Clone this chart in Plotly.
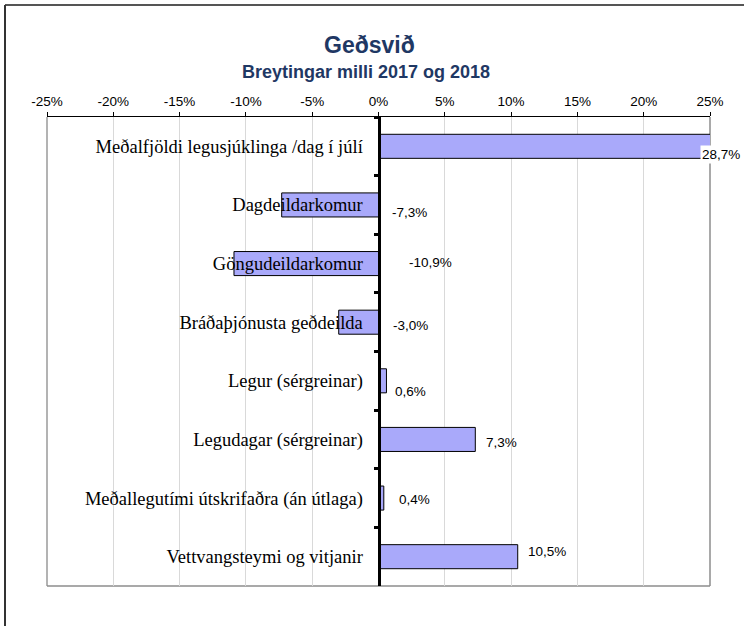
import plotly.graph_objects as go

categories = [
    "Meðalfjöldi legusjúklinga /dag í júlí",
    "Dagdeildarkomur",
    "Göngudeildarkomur",
    "Bráðaþjónusta geðdeilda",
    "Legur (sérgreinar)",
    "Legudagar (sérgreinar)",
    "Meðallegutími útskrifaðra (án útlaga)",
    "Vettvangsteymi og vitjanir",
]
values = [28.7, -7.3, -10.9, -3.0, 0.6, 7.3, 0.4, 10.5]
value_labels = ["28,7%", "-7,3%", "-10,9%", "-3,0%", "0,6%", "7,3%", "0,4%", "10,5%"]
tick_values = [-25, -20, -15, -10, -5, 0, 5, 10, 15, 20, 25]
tick_labels = ["-25%", "-20%", "-15%", "-10%", "-5%", "0%", "5%", "10%", "15%", "20%", "25%"]
title_text = "Geðsvið"
subtitle_text = "Breytingar milli 2017 og 2018"

# styling / label placement (pixels)
label_xshift = [-10, 11, 28, 12, 7, 9, 13, 8]
label_yshift = [-8, -8, 1, -3, -11, -3, -1, 5]

W, H = 744, 626
ML, MR, MT, MB = 47, 34, 117, 40
PW, PH = W - ML - MR, H - MT - MB
XMIN, XMAX = -25, 25

def px_x(px):
    return (px - ML) / PW

def px_y(py):
    return 1 - (py - MT) / PH

TITLE_COLOR = "#1F3864"
BAR_COLOR = "#A9A9FA"

fig = go.Figure()
fig.add_trace(go.Bar(
    x=values, y=categories, orientation="h",
    marker=dict(color=BAR_COLOR, line=dict(color="#000000", width=1)),
    width=0.41, hoverinfo="skip", showlegend=False,
))

annotations = []
for cat, v, lab, dx, dy in zip(categories, values, value_labels, label_xshift, label_yshift):
    xv = min(max(v, 0), XMAX)
    annotations.append(dict(
        x=xv, y=cat, xref="x", yref="y", text=lab, showarrow=False,
        xanchor="left", yanchor="middle", xshift=dx, yshift=dy,
        font=dict(family="Liberation Sans, Arial, sans-serif", size=13.5, color="#000000"),
        bgcolor="#FFFFFF" if v > XMAX else None,
    ))

annotations.append(dict(
    x=px_x(369), y=px_y(45), xref="paper", yref="paper", text=title_text,
    showarrow=False, xanchor="center", yanchor="middle",
    font=dict(family="Liberation Sans, Arial, sans-serif", size=23, color=TITLE_COLOR, weight="bold"),
))
annotations.append(dict(
    x=px_x(366), y=px_y(72), xref="paper", yref="paper", text=subtitle_text,
    showarrow=False, xanchor="center", yanchor="middle",
    font=dict(family="Liberation Sans, Arial, sans-serif", size=18, color=TITLE_COLOR, weight="bold"),
))

shapes = [
    dict(type="line", xref="paper", yref="paper", x0=0, x1=0, y0=0, y1=1,
         line=dict(color="#9A9A9A", width=1.5), layer="below"),
    dict(type="line", xref="paper", yref="paper", x0=1, x1=1, y0=0, y1=1,
         line=dict(color="#8C8C8C", width=1.5), layer="below"),
    dict(type="line", xref="paper", yref="paper", x0=0, x1=1, y0=0, y1=0,
         line=dict(color="#8C8C8C", width=1.5), layer="below"),
    dict(type="line", xref="paper", yref="paper", x0=px_x(5), x1=px_x(W + 5), y0=px_y(5), y1=px_y(5),
         line=dict(color="#555555", width=2)),
    dict(type="line", xref="paper", yref="paper", x0=px_x(5), x1=px_x(5), y0=px_y(5), y1=px_y(H + 5),
         line=dict(color="#333333", width=2)),
]

fig.update_layout(
    width=W, height=H,
    margin=dict(l=ML, r=MR, t=MT, b=MB, pad=0),
    paper_bgcolor="#FFFFFF", plot_bgcolor="#FFFFFF",
    annotations=annotations, shapes=shapes,
    xaxis=dict(
        side="top", range=[XMIN, XMAX], tickvals=tick_values, ticktext=tick_labels,
        showgrid=True, gridcolor="#D9D9D9", gridwidth=1,
        showline=True, linecolor="#000000", linewidth=1.5,
        ticks="outside", ticklen=4, tickcolor="#000000", tickwidth=1,
        zeroline=False, fixedrange=True,
        tickfont=dict(family="Liberation Sans, Arial, sans-serif", size=13.5, color="#000000"),
    ),
    yaxis=dict(
        type="category", categoryorder="array", categoryarray=categories,
        autorange="reversed", anchor="free", position=(0 - XMIN) / (XMAX - XMIN),
        showline=True, linecolor="#000000", linewidth=3,
        ticks="outside", tickson="boundaries", ticklen=4, tickwidth=3, tickcolor="#000000",
        showgrid=False, zeroline=False, ticklabelstandoff=11, fixedrange=True,
        tickfont=dict(family="Liberation Serif, Times New Roman, serif", size=18.5, color="#000000"),
    ),
)

fig.write_html(
    "out.html",
    config={"displayModeBar": False, "staticPlot": True},
    post_script="document.body.style.margin='0';document.body.style.overflow='hidden';",
)
